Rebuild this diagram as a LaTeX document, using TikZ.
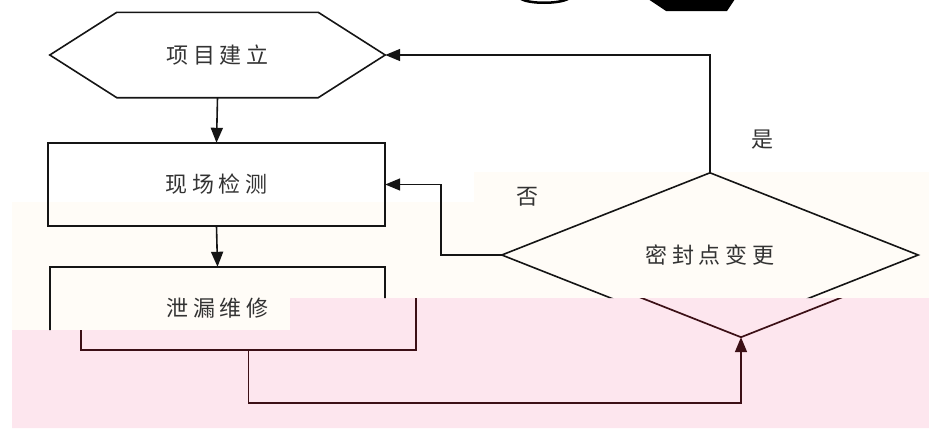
\documentclass[tikz,border=0pt]{standalone}
\usepackage{fontspec}
\usetikzlibrary{arrows.meta}
\newfontfamily\cjk[LetterSpace=22]{Noto Sans CJK SC}
\definecolor{linec}{HTML}{151515}
\definecolor{textc}{HTML}{333333}
\definecolor{maroonc}{HTML}{3C1016}
\definecolor{pinkc}{HTML}{FDE6EE}
\definecolor{creamc}{HTML}{FFFCF7}
\tikzset{
  rectnode/.style={draw=none, inner sep=0pt, text=textc, font=\cjk\fontsize{22}{22}\selectfont},
  lbl/.style={inner sep=0pt, text=textc, font=\cjk\fontsize{22}{22}\selectfont},
  ln/.style={draw=linec, line width=1.6pt},
  lnp/.style={draw=maroonc, line width=1.7pt},
}
\begin{document}
\begin{tikzpicture}[x=1pt,y=-1pt, >={Triangle[length=15pt,width=12pt]}]
\useasboundingbox (0,0) rectangle (929,439);
% background tints
\fill[creamc] (12,202) -- (474,202) -- (474,172) -- (929,172) -- (929,330) -- (12,330) -- cycle;
\fill[pinkc] (12,330) -- (290,330) -- (290,298) -- (929,298) -- (929,428) -- (12,428) -- cycle;
% top artifacts
\begin{scope}
  \clip (0,0) rectangle (929,439);
  \draw[black, line width=2.5pt] (521,-1) .. controls (530,4) and (558,4) .. (568,-1);
  \fill[black] (648,-1) -- (735,-1) -- (727,11) -- (666,11) -- cycle;
\end{scope}
% nodes
\node[rectnode, minimum width=335pt, minimum height=85pt] (hex) at (217.5,55) {项目建立};
\node[rectnode, minimum width=337pt, minimum height=83pt] (b2) at (216.5,184.5) {现场检测};
\node[rectnode, minimum width=335pt, minimum height=83pt] (b3) at (217.5,308.5) {泄漏维修};
\node[rectnode, minimum width=416pt, minimum height=164pt] (d) at (710,255) {密封点变更};
\node[lbl] (yes) at (762,140) {是};
\node[lbl] (no) at (527,197) {否};
% shapes
\draw[ln] (hex.west) -- ([xshift=67pt]hex.north west) -- ([xshift=-67pt]hex.north east) -- (hex.east) -- ([xshift=-67pt]hex.south east) -- ([xshift=67pt]hex.south west) -- cycle;
\draw[ln] (b2.north west) rectangle (b2.south east);
\begin{scope}
  \clip (0,0) -- (929,0) -- (929,298) -- (290,298) -- (290,330) -- (0,330) -- cycle;
  \draw[ln] (b3.north west) rectangle (b3.south east);
  \draw[ln] (d.north) -- (d.east) -- (d.south) -- (d.west) -- cycle;
\end{scope}
\begin{scope}
  \clip (12,330) -- (290,330) -- (290,298) -- (929,298) -- (929,428) -- (12,428) -- cycle;
  \draw[lnp] ([xshift=31pt]b3.north west) rectangle ([xshift=31pt]b3.south east);
  \draw[lnp] ([xshift=31pt]d.north) -- ([xshift=31pt]d.east) -- ([xshift=31pt]d.south) -- ([xshift=31pt]d.west) -- cycle;
\end{scope}
% connectors
\draw[ln,->] (hex.south) -- (b2.north);
\draw[ln,->] (b2.south) -- (b3.north);
\draw[ln,->] (d.north) |- (hex.east);
\draw[ln,->] (d.west) -- ++(-61,0) |- (b2.east);
\draw[lnp,->] ([xshift=31pt]b3.south) -- ++(0,53) -| ([xshift=31pt]d.south);
\end{tikzpicture}
\end{document}
